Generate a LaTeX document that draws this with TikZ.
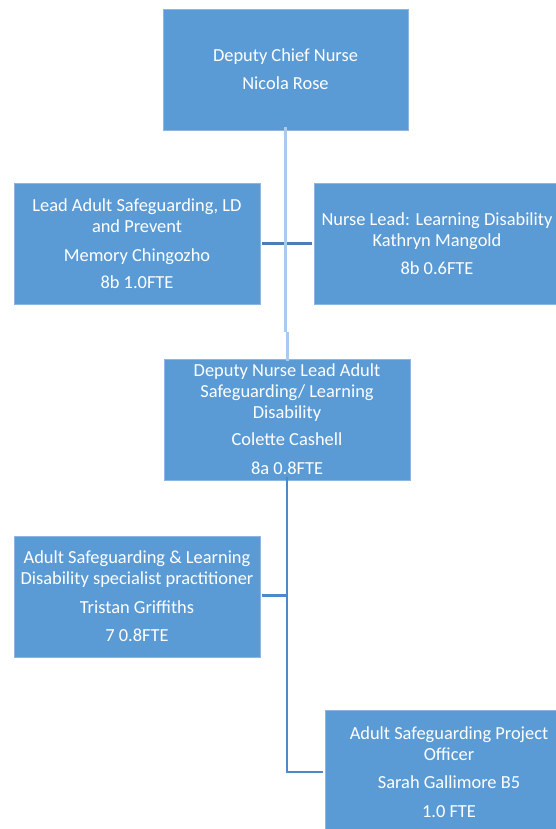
\documentclass[tikz,border=0pt]{standalone}
\usepackage{fontspec}
\setmainfont{Carlito}
\definecolor{boxblue}{HTML}{5B9BD5}
\definecolor{boxedge}{HTML}{8DB6E2}
\definecolor{lightline}{HTML}{A9C9EF}
\definecolor{darkline}{HTML}{4A7EB4}
\definecolor{midline}{HTML}{4F88C6}
\tikzset{
  orgbox/.style={rectangle, fill=boxblue, draw=boxedge, line width=0.6pt,
    text=white, align=center, inner sep=0pt,
    font=\fontsize{18.4}{21}\selectfont},
  lightconn/.style={draw=lightline, line width=3pt},
  darkconn/.style={draw=darkline, line width=2.6pt},
  midconn/.style={draw=midline, line width=2.8pt},
}
\begin{document}
\begin{tikzpicture}[x=1pt,y=-1pt]
\useasboundingbox (0,0) rectangle (556,829);
\begin{scope}
\clip (0,0) rectangle (556,829);
% boxes
\node[orgbox, minimum width=245, minimum height=121] (dcn) at (285.5,69.5)
  {Deputy Chief Nurse\\[7pt]Nicola Rose};
\node[orgbox, minimum width=246, minimum height=121] (lead) at (137,243.5)
  {Lead Adult Safeguarding, LD\\and Prevent\\[8pt]Memory Chingozho\\[6pt]8b 1.0FTE};
\node[orgbox, minimum width=246, minimum height=121] (nld) at (437,243.5)
  {Nurse Lead: Learning Disability\\Kathryn Mangold\\[7pt]8b 0.6FTE};
\node[orgbox, minimum width=246, minimum height=121] (dnl) at (287,419.5)
  {Deputy Nurse Lead Adult\\Safeguarding/ Learning\\Disability\\[6pt]Colette Cashell\\[8pt]8a 0.8FTE};
\node[orgbox, minimum width=246, minimum height=121] (asp) at (137,596.5)
  {Adult Safeguarding \& Learning\\Disability specialist practitioner\\[8pt]Tristan Griffiths\\[7pt]7 0.8FTE};
\node[orgbox, minimum width=248, minimum height=125] (apo) at (449,772.5)
  {Adult Safeguarding Project\\Officer\\[7pt]Sarah Gallimore B5\\[8pt]1.0 FTE};
% connectors
\coordinate (t1) at (285.5,332);
\coordinate (t2) at (287,332);
\draw[darkconn] (lead.east) ++(2,0) -- ([xshift=-2]nld.west);
\draw[lightconn] ([xshift=0,yshift=3]dcn.south) -- (t1);
\draw[lightconn] (t2) -- ([yshift=-2]dnl.north);
\coordinate (m1) at (287,595.5);
\coordinate (m2) at (287,772);
\draw[midconn] ([yshift=3]dnl.south) -- (m2) -- ([xshift=-2]apo.west |- m2);
\draw[midconn] (m1) -- ([xshift=2]asp.east |- m1);
\end{scope}
\end{tikzpicture}
\end{document}
